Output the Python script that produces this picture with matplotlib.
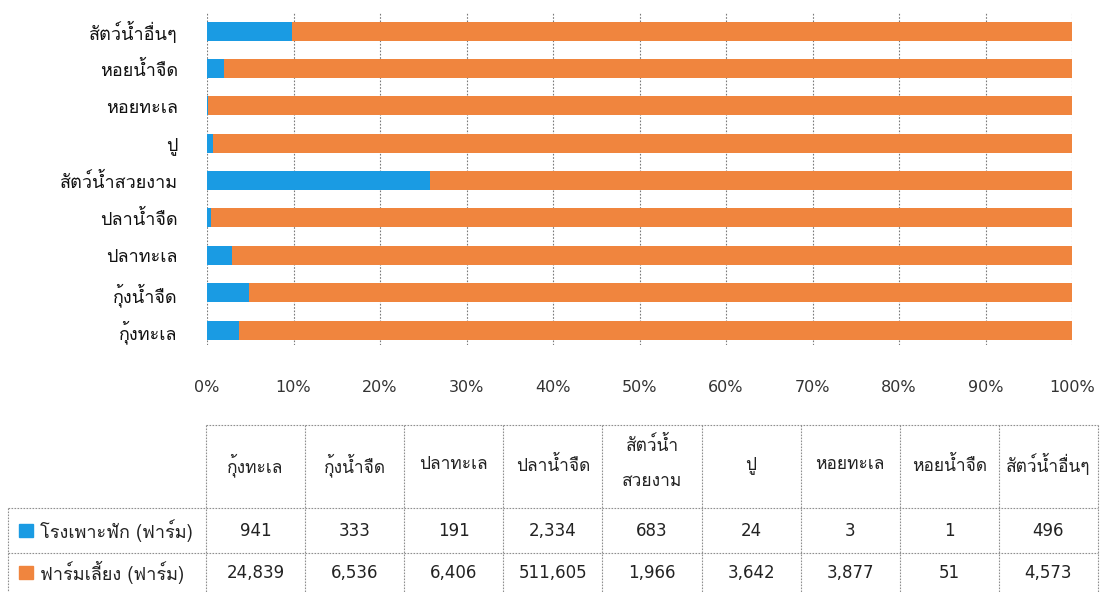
import matplotlib
matplotlib.use("Agg")
import matplotlib.pyplot as plt
from matplotlib import font_manager
from matplotlib.ft2font import FT2Font
from matplotlib.patches import Rectangle
import numpy as np

# ---------------- data ----------------
categories = ["กุ้งทะเล", "กุ้งน้ำจืด", "ปลาทะเล", "ปลาน้ำจืด", "สัตว์น้ำสวยงาม",
              "ปู", "หอยทะเล", "หอยน้ำจืด", "สัตว์น้ำอื่นๆ"]
table_headers = ["กุ้งทะเล", "กุ้งน้ำจืด", "ปลาทะเล", "ปลาน้ำจืด", "สัตว์น้ำ\nสวยงาม",
                 "ปู", "หอยทะเล", "หอยน้ำจืด", "สัตว์น้ำอื่นๆ"]
hatchery = [941, 333, 191, 2334, 683, 24, 3, 1, 496]
farms = [24839, 6536, 6406, 511605, 1966, 3642, 3877, 51, 4573]
series_names = ["โรงเพาะฟัก (ฟาร์ม)", "ฟาร์มเลี้ยง (ฟาร์ม)"]
xtick_values = [0, 10, 20, 30, 40, 50, 60, 70, 80, 90, 100]

colors = ["#1a9be3", "#f0853e"]


# ---------------- fonts ----------------
def find_thai_fonts():
    found = []
    paths = set(fe.fname for fe in font_manager.fontManager.ttflist)
    try:
        paths |= set(font_manager.findSystemFonts())
    except Exception:
        pass
    for p in sorted(paths):
        try:
            f = FT2Font(p)
            cmap = f.get_charmap()
            if 0x0E01 in cmap and 0x0E49 in cmap and 0x0E33 in cmap:
                try:
                    font_manager.fontManager.addfont(p)
                except Exception:
                    pass
                name = font_manager.FontProperties(fname=p).get_name()
                found.append(name)
        except Exception:
            pass
    pref = ["Tahoma", "Loma", "Noto Sans Thai", "Noto Sans Thai UI", "Garuda",
            "Sarabun", "Kinnari", "Norasi", "Umpush", "Waree"]
    for n in pref:
        if n in found:
            return [n]
    return found[:1]


thai = find_thai_fonts()
thai_family = thai + ["DejaVu Sans"]
plt.rcParams["font.family"] = ["DejaVu Sans"]

W, H = 1104, 592
fig = plt.figure(figsize=(W / 100, H / 100), dpi=100)


def fx(px):
    return px / W


def fy(py):
    return 1 - py / H


# ---------------- bar chart ----------------
ax_left, ax_right, ax_top, ax_bot = 207, 1072, 12, 345
ax = fig.add_axes([fx(ax_left), fy(ax_bot), fx(ax_right - ax_left), (ax_bot - ax_top) / H])

hatch = np.array(hatchery, dtype=float)
farm = np.array(farms, dtype=float)
total = hatch + farm
p_h = hatch / total * 100
p_f = farm / total * 100
ypos = np.arange(len(categories))

ax.barh(ypos, p_h, height=0.51, color=colors[0], zorder=3)
ax.barh(ypos, p_f, left=p_h, height=0.51, color=colors[1], zorder=3)

ax.set_xlim(0, 100)
ax.set_ylim(-0.40, len(categories) - 1 + 0.51)
ax.set_xticks(xtick_values)
ax.set_xticklabels([f"{v}%" for v in xtick_values], fontsize=11.5, color="#333333")
ax.set_yticks(ypos)
ax.set_yticklabels(categories, family=thai_family, fontsize=13, color="#111111")
ax.tick_params(axis="x", length=0, pad=25)
ax.tick_params(axis="y", length=0, pad=21)
for s in ax.spines.values():
    s.set_visible(False)
ax.grid(axis="x", color="#7a7a7a", linestyle=(0, (1.5, 1.5)), linewidth=0.8, zorder=0)
ax.grid(axis="y", visible=False)

# ---------------- data table ----------------
tab = fig.add_axes([0, 0, 1, 1])
tab.set_xlim(0, W)
tab.set_ylim(H, 0)
tab.axis("off")

col_left, col_right = 206, 1098
ncol = len(table_headers)
cw = (col_right - col_left) / ncol
col_edges = [col_left + i * cw for i in range(ncol + 1)]
row_top, row_h1, row_h2, row_bot = 425, 508, 553, 596
label_left = 8

line_kw = dict(color="#8f8f8f", linestyle=(0, (1.5, 1.2)), linewidth=0.8)

# horizontal lines
tab.plot([col_left, col_right], [row_top, row_top], **line_kw)
for yy in (row_h1, row_h2):
    tab.plot([label_left, col_right], [yy, yy], **line_kw)
# vertical lines
for i, xe in enumerate(col_edges):
    tab.plot([xe, xe], [row_top, row_bot], **line_kw)
tab.plot([label_left, label_left], [row_h1, row_bot], **line_kw)

for i, h in enumerate(table_headers):
    cx = (col_edges[i] + col_edges[i + 1]) / 2
    if "\n" in h:
        a, b = h.split("\n")
        tab.text(cx, 445, a, ha="center", va="center", family=thai_family, fontsize=12.5, color="#222222")
        tab.text(cx, 482, b, ha="center", va="center", family=thai_family, fontsize=12.5, color="#222222")
    else:
        tab.text(cx, 465, h, ha="center", va="center", family=thai_family, fontsize=12.5, color="#222222")

rows = [hatchery, farms]
row_centers = [(row_h1 + row_h2) / 2, (row_h2 + 592) / 2]
for r, (vals, cy) in enumerate(zip(rows, row_centers)):
    for i, v in enumerate(vals):
        cx = (col_edges[i] + col_edges[i + 1]) / 2
        tab.text(cx, cy, f"{v:,}", ha="center", va="center", fontsize=12, color="#222222")
    tab.add_patch(Rectangle((19, cy - 6.5), 14, 13, color=colors[r]))
    tab.text(40, cy, series_names[r], ha="left", va="center", family=thai_family,
             fontsize=13, color="#222222")

fig.savefig("out.png", dpi=100)
